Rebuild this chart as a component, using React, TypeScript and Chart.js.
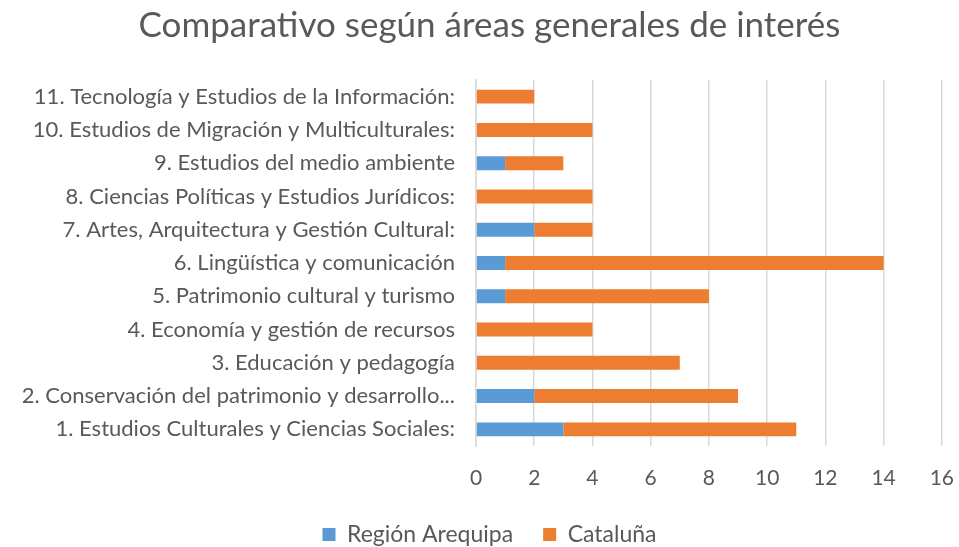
import React, { useEffect, useRef } from "react";
import { Chart, registerables } from "chart.js";

Chart.register(...registerables);

const categories = [
  "1. Estudios Culturales y Ciencias Sociales:",
  "2. Conservación del patrimonio y desarrollo...",
  "3. Educación y pedagogía",
  "4. Economía y gestión de recursos",
  "5. Patrimonio cultural y turismo",
  "6. Lingüística y comunicación",
  "7. Artes, Arquitectura y Gestión Cultural:",
  "8. Ciencias Políticas y Estudios Jurídicos:",
  "9. Estudios del medio ambiente",
  "10. Estudios de Migración y Multiculturales:",
  "11. Tecnología y Estudios de la Información:",
];

const arequipa = [3, 2, 0, 0, 1, 1, 2, 0, 1, 0, 0];
const cataluna = [8, 7, 7, 4, 7, 13, 2, 4, 2, 4, 2];

const xTicks = [0, 2, 4, 6, 8, 10, 12, 14, 16];

const TEXT = "#595959";
const FONT = "Lato, 'Open Sans', sans-serif";

export default function App() {
  const ref = useRef<HTMLCanvasElement | null>(null);

  useEffect(() => {
    document.body.style.margin = "0";
    if (!ref.current) return;
    const chart = new Chart(ref.current, {
      type: "bar",
      data: {
        labels: categories,
        datasets: [
          {
            label: "Región Arequipa",
            data: arequipa,
            backgroundColor: "#5B9BD5",
            categoryPercentage: 1,
            barPercentage: 0.42,
          },
          {
            label: "Cataluña",
            data: cataluna,
            backgroundColor: "#ED7D31",
            categoryPercentage: 1,
            barPercentage: 0.42,
          },
        ],
      },
      options: {
        indexAxis: "y",
        animation: false,
        responsive: false,
        maintainAspectRatio: false,
        layout: { padding: { left: 0, right: -20, top: 0, bottom: -9 } },
        plugins: {
          title: {
            display: true,
            text: "Comparativo según áreas generales de interés",
            color: TEXT,
            font: { family: FONT, size: 35, weight: "normal" },
            padding: { top: 5, bottom: 33 },
          },
          legend: {
            position: "bottom",
            labels: {
              color: TEXT,
              font: { family: FONT, size: 23 },
              boxWidth: 13,
              boxHeight: 13,
              padding: 30,
            },
          },
          tooltip: { enabled: false },
        },
        scales: {
          x: {
            stacked: true,
            min: 0,
            max: 16,
            afterBuildTicks: (scale: any) => {
              scale.ticks = xTicks.map((v) => ({ value: v }));
            },
            afterFit: (scale: any) => {
              scale.height = 47;
            },
            grid: {
              color: "#d9d9d9",
              lineWidth: 1.5,
              drawTicks: true,
              tickLength: 15,
              tickColor: "rgba(0,0,0,0)",
            },
            border: { display: false },
            ticks: {
              color: TEXT,
              font: { family: FONT, size: 21 },
              padding: 5,
            },
          },
          y: {
            stacked: true,
            reverse: true,
            grid: { display: false, drawTicks: false },
            border: { display: true, color: "#d9d9d9", width: 1.5 },
            ticks: {
              color: TEXT,
              font: { family: FONT, size: 22 },
              padding: 21,
              autoSkip: false,
            },
            afterFit: (scale: any) => {
              scale.width = 476;
            },
          },
        },
      },
    });
    return () => chart.destroy();
  }, []);

  return <canvas ref={ref} width={959} height={547} style={{ display: "block" }} />;
}
